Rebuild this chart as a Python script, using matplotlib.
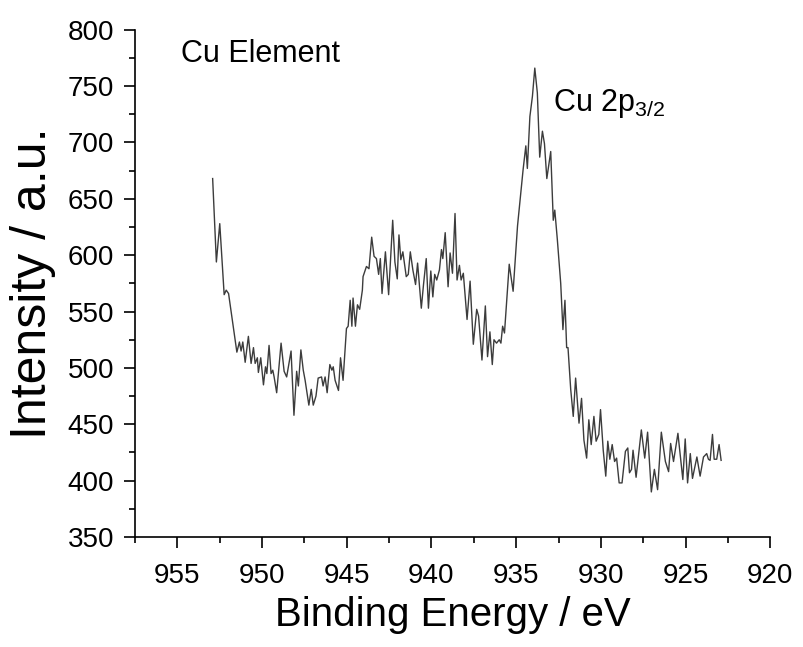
import matplotlib
matplotlib.use("Agg")
import matplotlib.pyplot as plt
from matplotlib.ticker import MultipleLocator

plt.rcParams['font.family'] = ['Liberation Sans', 'DejaVu Sans']
plt.rcParams['mathtext.fontset'] = 'custom'
plt.rcParams['mathtext.rm'] = 'Liberation Sans'
plt.rcParams['mathtext.it'] = 'Liberation Sans'

# Cu 2p XPS spectrum: binding energy (eV) and intensity (a.u.)
binding_energy = [
    952.92, 952.70, 952.50, 952.24, 952.12, 951.98, 951.49, 951.34, 951.24, 951.14,
    951.00, 950.81, 950.65, 950.51, 950.41, 950.28, 950.22, 950.08, 949.92, 949.80,
    949.72, 949.59, 949.47, 949.37, 949.29, 949.14, 948.88, 948.70, 948.55, 948.29,
    948.12, 947.96, 947.86, 947.71, 947.57, 947.46, 947.24, 947.10, 946.98, 946.82,
    946.69, 946.49, 946.40, 946.28, 946.16, 946.00, 945.88, 945.80, 945.69, 945.49,
    945.37, 945.22, 945.02, 944.92, 944.80, 944.70, 944.63, 944.49, 944.37, 944.24,
    944.08, 944.04, 943.84, 943.69, 943.53, 943.39, 943.25, 943.12, 943.02, 942.92,
    942.72, 942.53, 942.29, 942.16, 942.02, 941.92, 941.81, 941.69, 941.49, 941.37,
    941.25, 941.10, 940.94, 940.82, 940.60, 940.47, 940.31, 940.18, 940.04, 939.92,
    939.81, 939.69, 939.53, 939.41, 939.33, 939.19, 939.02, 938.90, 938.76, 938.61,
    938.49, 938.35, 938.25, 938.12, 937.90, 937.72, 937.53, 937.33, 937.22, 937.02,
    936.82, 936.69, 936.55, 936.41, 936.31, 936.16, 936.00, 935.90, 935.80, 935.69,
    935.41, 935.18, 934.92, 934.73, 934.59, 934.43, 934.34, 934.19, 934.04, 933.90,
    933.75, 933.61, 933.45, 933.33, 933.19, 932.96, 932.81, 932.72, 932.57, 932.37,
    932.24, 932.12, 932.02, 931.94, 931.78, 931.63, 931.49, 931.29, 931.14, 931.00,
    930.84, 930.71, 930.57, 930.41, 930.28, 930.12, 930.02, 929.86, 929.71, 929.59,
    929.47, 929.33, 929.19, 929.07, 928.92, 928.75, 928.55, 928.41, 928.31, 928.19,
    928.10, 927.92, 927.61, 927.41, 927.24, 927.02, 926.84, 926.65, 926.43, 926.19,
    926.00, 925.88, 925.71, 925.45, 925.16, 925.02, 924.88, 924.72, 924.59, 924.33,
    924.14, 923.94, 923.75, 923.65, 923.55, 923.41, 923.31, 923.16, 923.02, 922.90,
]
intensity = [
    668, 594, 628, 565, 569, 566, 514, 523, 515, 523,
    505, 528, 504, 518, 504, 509, 496, 509, 485, 501,
    495, 520, 495, 498, 492, 478, 522, 497, 492, 515,
    458, 497, 484, 516, 498, 489, 467, 481, 467, 475,
    491, 492, 484, 492, 478, 503, 498, 501, 489, 480,
    509, 489, 535, 537, 560, 537, 562, 537, 556, 552,
    569, 581, 590, 588, 616, 599, 597, 583, 597, 566,
    603, 565, 631, 594, 579, 618, 596, 603, 581, 583,
    603, 587, 574, 593, 553, 574, 597, 553, 586, 563,
    583, 578, 587, 605, 597, 620, 572, 602, 584, 637,
    578, 591, 578, 584, 543, 577, 521, 552, 546, 507,
    555, 510, 532, 503, 525, 522, 525, 522, 537, 531,
    592, 568, 626, 655, 676, 697, 677, 723, 741, 766,
    744, 687, 710, 699, 668, 692, 631, 640, 614, 575,
    534, 560, 518, 518, 481, 457, 491, 451, 473, 436,
    420, 454, 432, 457, 435, 441, 463, 427, 404, 435,
    419, 432, 417, 420, 398, 398, 426, 429, 407, 410,
    427, 403, 445, 420, 443, 390, 410, 392, 443, 417,
    408, 433, 417, 442, 401, 437, 398, 424, 402, 421,
    404, 421, 424, 419, 418, 441, 419, 419, 432, 418,
]

fig = plt.figure(figsize=(8.04, 6.47), dpi=100)
ax = fig.add_axes([0.168, 0.17, 0.790, 0.784])

ax.plot(binding_energy, intensity, color='#3c3c3c', lw=1.0)

ax.set_xlim(957.5, 920)
ax.set_ylim(350, 800)
ax.xaxis.set_major_locator(MultipleLocator(5))
ax.xaxis.set_minor_locator(MultipleLocator(2.5))
ax.yaxis.set_major_locator(MultipleLocator(50))
ax.yaxis.set_minor_locator(MultipleLocator(25))

for side in ('top', 'right'):
    ax.spines[side].set_visible(False)
for side in ('left', 'bottom'):
    ax.spines[side].set_linewidth(1.2)

ax.tick_params(which='major', direction='out', length=8, width=1.2,
               labelsize=20)
ax.tick_params(axis='x', which='major', pad=11)
ax.tick_params(axis='y', which='major', pad=7)
ax.tick_params(which='minor', direction='out', length=4, width=1.2)

ax.set_xlabel('Binding Energy / eV', fontsize=29, va='center')
ax.xaxis.set_label_coords(0.5, -0.154)
ax.set_ylabel('Intensity / a.u.', fontsize=36, va='center')
ax.yaxis.set_label_coords(-0.160, 0.5)

ax.text(954.8, 771.5, 'Cu Element', fontsize=22, ha='left', va='baseline')
ax.text(932.8, 727.5, r'Cu 2p$_{3/2}$', fontsize=22, ha='left', va='baseline')

fig.savefig('out.png', dpi=100)
